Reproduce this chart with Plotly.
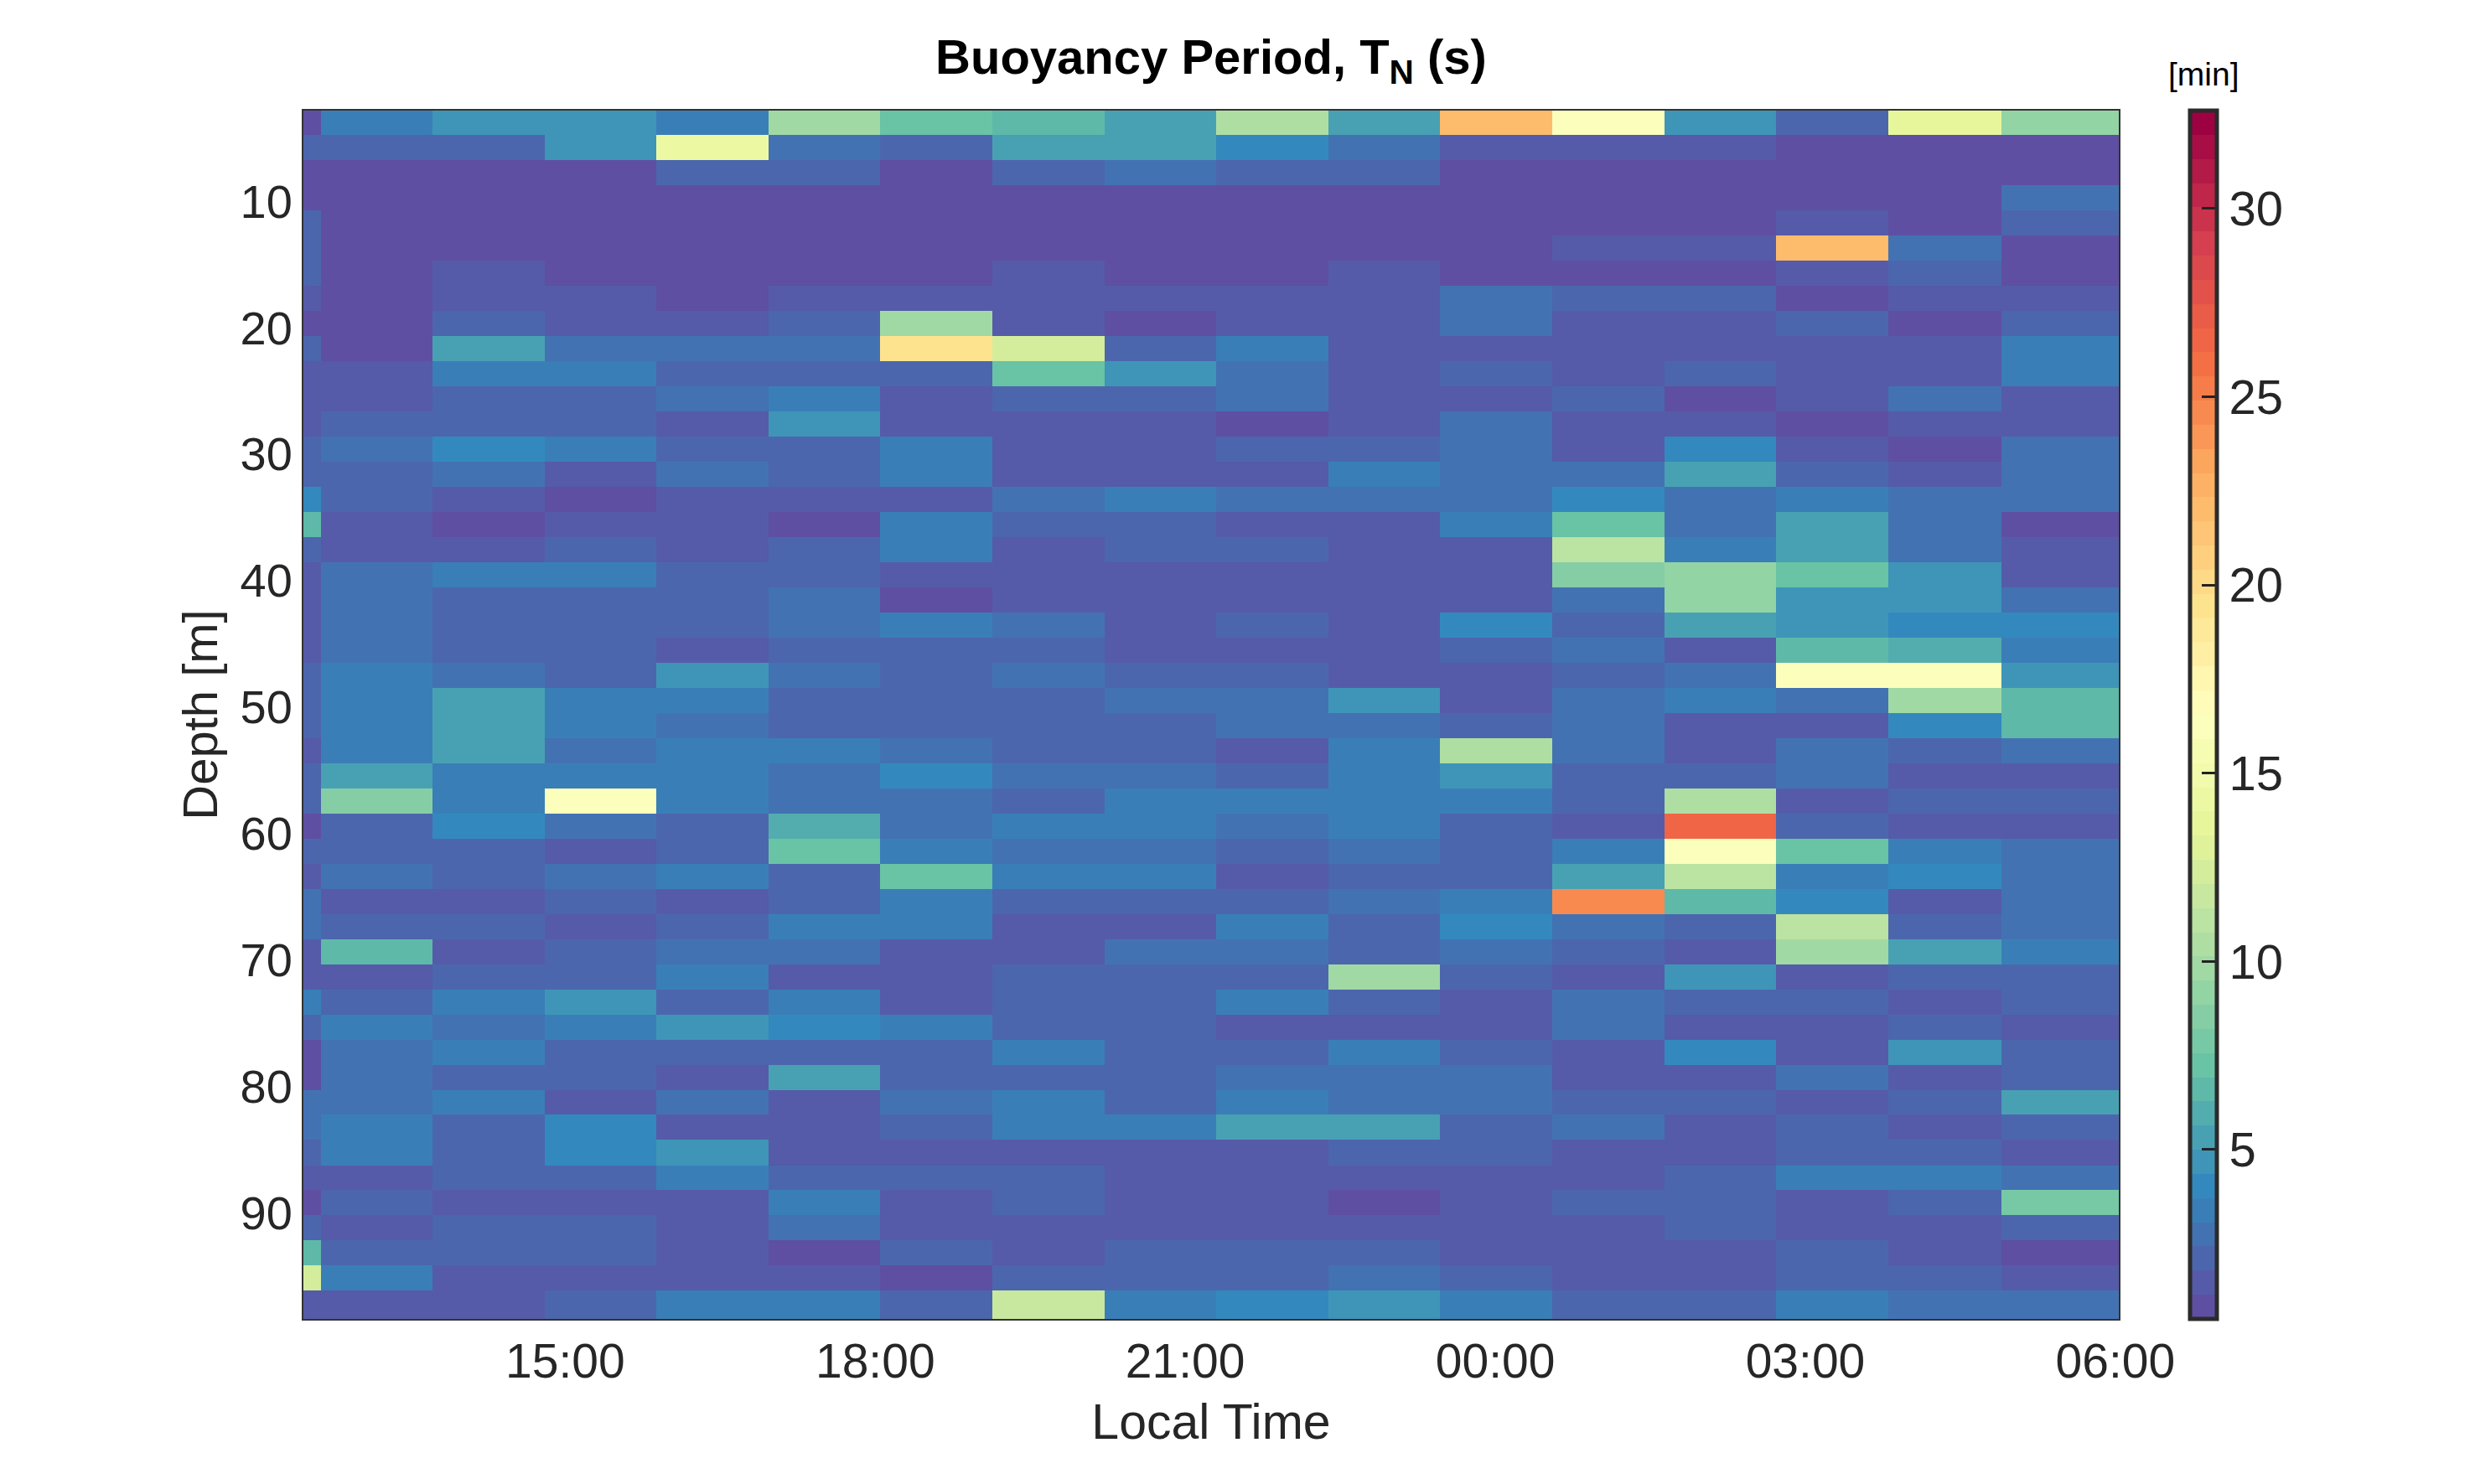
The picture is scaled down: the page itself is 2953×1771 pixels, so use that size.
#!/usr/bin/env python
"""
Buoyancy period section: depth against local time, coloured by period in minutes.
"""

import plotly.colors as pc
import plotly.graph_objects as go

TIME_EDGES = [
    "2024-03-01 11:33", "2024-03-01 12:38", "2024-03-01 13:43", "2024-03-01 14:48",
    "2024-03-01 15:53", "2024-03-01 16:58", "2024-03-01 18:03", "2024-03-01 19:08",
    "2024-03-01 20:13", "2024-03-01 21:18", "2024-03-01 22:23", "2024-03-01 23:28",
    "2024-03-02 00:33", "2024-03-02 01:38", "2024-03-02 02:43", "2024-03-02 03:48",
    "2024-03-02 04:54", "2024-03-02 06:02",
]

DEPTH_EDGES = [
    2.84, 4.77, 6.76, 8.74, 10.73, 12.72, 14.71, 16.69, 18.68, 20.67, 22.65, 24.64,
    26.63, 28.61, 30.60, 32.59, 34.58, 36.56, 38.55, 40.54, 42.52, 44.51, 46.50,
    48.48, 50.47, 52.46, 54.45, 56.43, 58.42, 60.41, 62.39, 64.38, 66.37, 68.35,
    70.34, 72.33, 74.32, 76.30, 78.29, 80.28, 82.26, 84.25, 86.24, 88.22, 90.21,
    92.20, 94.19, 96.17, 98.40,
]

# one row per depth bin, one value per time bin [min]
PERIOD_MIN = [
    [1.0, 3.3, 4.6, 4.6, 3.3, 9.8, 7.0, 6.5, 5.0, 10.5, 5.0, 22.0, 16.0, 4.4, 2.3, 13.5, 9.0],
    [2.0, 2.2, 2.2, 4.4, 14.0, 2.6, 2.2, 5.0, 5.0, 4.0, 2.7, 1.7, 1.7, 1.7, 1.1, 1.1, 1.1],
    [1.0, 1.0, 1.0, 1.0, 2.3, 1.8, 1.0, 1.8, 2.6, 1.8, 1.8, 1.0, 1.0, 1.0, 1.0, 1.0, 1.0],
    [1.0, 1.0, 1.0, 1.0, 1.0, 1.0, 1.0, 1.0, 1.0, 1.0, 1.0, 1.0, 1.0, 1.0, 1.0, 1.0, 2.6],
    [1.8, 1.0, 1.0, 1.0, 1.0, 1.0, 1.0, 1.0, 1.0, 1.0, 1.0, 1.0, 1.0, 1.0, 1.7, 1.0, 1.8],
    [1.8, 1.0, 1.0, 1.0, 1.0, 1.0, 1.0, 1.0, 1.0, 1.0, 1.0, 1.0, 1.5, 1.5, 22.0, 2.7, 1.0],
    [1.8, 1.0, 1.6, 1.0, 1.0, 1.0, 1.0, 1.6, 1.0, 1.0, 1.5, 1.0, 0.9, 0.9, 1.6, 2.0, 1.0],
    [1.7, 1.0, 1.6, 1.6, 1.0, 1.6, 1.6, 1.6, 1.6, 1.5, 1.5, 2.6, 2.3, 2.3, 0.9, 1.6, 1.6],
    [1.0, 1.0, 2.2, 1.6, 1.6, 2.1, 9.8, 1.6, 0.9, 1.5, 1.5, 2.6, 1.5, 1.5, 2.2, 0.9, 1.8],
    [1.8, 1.0, 5.2, 2.6, 2.6, 2.6, 19.5, 12.5, 1.8, 3.4, 1.5, 1.5, 1.5, 1.5, 1.5, 1.5, 3.3],
    [1.5, 1.6, 3.3, 3.3, 2.2, 2.2, 2.2, 7.0, 4.4, 2.7, 1.5, 2.1, 1.5, 2.0, 1.5, 1.5, 3.3],
    [1.5, 1.6, 2.1, 2.1, 2.7, 3.3, 1.5, 2.1, 2.1, 2.7, 1.5, 1.6, 2.1, 0.9, 1.5, 2.6, 1.4],
    [1.5, 2.1, 2.1, 2.1, 1.5, 4.5, 1.5, 1.5, 1.5, 0.9, 1.5, 2.6, 1.5, 1.5, 0.9, 1.4, 1.4],
    [2.0, 2.7, 4.0, 3.3, 2.1, 2.1, 3.7, 1.5, 1.5, 2.1, 2.1, 2.6, 1.5, 3.8, 1.5, 0.9, 2.7],
    [2.0, 2.1, 2.8, 1.5, 2.7, 2.1, 3.3, 1.5, 1.5, 1.4, 3.2, 2.7, 2.7, 5.2, 2.1, 1.3, 2.8],
    [4.0, 2.2, 1.5, 0.9, 1.5, 1.5, 1.5, 2.7, 3.3, 2.8, 2.8, 2.8, 4.3, 2.7, 3.2, 2.6, 2.7],
    [6.3, 1.4, 0.9, 1.5, 1.5, 0.9, 3.3, 2.1, 2.1, 1.3, 1.3, 3.3, 7.0, 2.7, 5.2, 2.6, 0.9],
    [2.1, 1.5, 1.5, 2.1, 1.5, 2.1, 3.3, 1.5, 2.0, 2.0, 1.4, 1.4, 11.0, 3.3, 5.2, 2.9, 1.4],
    [1.2, 2.7, 3.3, 3.3, 2.2, 2.1, 1.4, 1.4, 1.4, 1.4, 1.4, 1.4, 8.5, 9.2, 7.0, 4.4, 1.6],
    [1.2, 2.7, 2.1, 2.1, 2.1, 2.7, 0.9, 1.4, 1.4, 1.4, 1.4, 1.4, 2.7, 9.2, 4.4, 4.4, 2.7],
    [1.2, 2.7, 2.1, 2.1, 2.1, 2.7, 3.3, 2.7, 1.3, 2.0, 1.4, 4.0, 2.1, 5.0, 4.4, 3.8, 4.3],
    [1.2, 2.7, 2.4, 2.1, 1.4, 1.9, 2.0, 2.0, 1.3, 1.3, 1.3, 2.0, 2.6, 1.4, 6.3, 5.8, 3.2],
    [1.8, 3.3, 2.6, 2.0, 4.4, 2.6, 2.0, 2.7, 1.9, 1.9, 1.3, 1.3, 2.1, 2.7, 16.0, 16.0, 4.4],
    [1.8, 3.3, 5.2, 3.6, 3.6, 2.1, 2.1, 2.1, 2.6, 2.6, 4.4, 1.3, 2.7, 3.2, 2.7, 9.8, 6.4],
    [1.8, 3.7, 5.2, 3.3, 2.7, 2.1, 2.1, 2.1, 2.1, 2.6, 2.6, 2.0, 2.7, 1.3, 1.3, 3.8, 6.4],
    [1.5, 3.3, 5.2, 2.7, 3.3, 3.3, 2.7, 2.0, 2.0, 1.5, 3.2, 10.5, 2.7, 1.3, 2.7, 2.0, 2.6],
    [1.9, 5.6, 3.3, 3.7, 3.3, 2.6, 3.8, 2.6, 2.6, 2.4, 3.2, 4.6, 2.0, 2.0, 2.6, 1.3, 1.3],
    [2.4, 8.5, 3.6, 16.0, 3.3, 2.6, 2.6, 2.0, 3.6, 3.5, 3.7, 3.2, 2.0, 10.5, 1.3, 2.0, 2.0],
    [1.1, 2.0, 4.3, 2.6, 2.0, 5.7, 2.6, 3.6, 3.3, 2.7, 3.3, 2.0, 1.2, 26.7, 2.0, 1.3, 1.3],
    [2.0, 2.0, 2.0, 1.3, 2.0, 7.5, 3.2, 2.6, 2.6, 2.0, 2.6, 2.0, 3.3, 16.0, 7.5, 3.1, 2.6],
    [1.7, 2.6, 2.0, 2.7, 3.6, 2.0, 7.5, 3.6, 3.3, 1.3, 2.0, 2.0, 5.6, 10.8, 3.2, 4.3, 2.6],
    [2.6, 1.3, 1.3, 2.0, 1.3, 2.0, 3.7, 2.0, 2.0, 2.0, 2.6, 3.2, 24.5, 6.4, 4.3, 1.2, 2.6],
    [2.6, 2.0, 2.0, 1.3, 2.1, 3.2, 3.2, 1.3, 1.3, 3.4, 1.8, 3.8, 2.6, 2.1, 10.8, 2.0, 2.6],
    [1.2, 6.4, 1.3, 2.0, 2.6, 2.6, 1.2, 1.2, 2.6, 2.6, 2.1, 2.6, 2.1, 1.3, 9.8, 5.6, 3.6],
    [1.7, 1.2, 2.3, 2.3, 3.2, 1.2, 1.2, 2.0, 2.0, 1.8, 9.7, 2.0, 1.2, 4.4, 1.2, 2.4, 2.4],
    [3.2, 1.8, 3.2, 4.4, 2.0, 3.2, 1.2, 2.0, 2.0, 3.3, 2.0, 1.2, 2.6, 1.9, 1.9, 1.2, 1.8],
    [2.0, 3.7, 2.5, 3.2, 4.4, 3.8, 3.1, 1.9, 1.9, 1.2, 1.2, 1.2, 2.6, 1.2, 1.2, 1.8, 1.2],
    [1.1, 2.6, 3.6, 1.9, 1.9, 2.4, 2.4, 3.2, 1.9, 1.9, 3.6, 1.9, 1.2, 4.3, 1.2, 4.4, 1.9],
    [1.1, 2.6, 1.8, 1.8, 1.2, 5.2, 1.8, 2.4, 1.8, 2.5, 2.5, 2.5, 1.2, 1.2, 2.5, 1.2, 1.9],
    [2.5, 2.5, 3.3, 1.2, 2.5, 1.2, 2.6, 3.3, 2.4, 3.6, 2.6, 2.6, 1.9, 1.9, 1.2, 2.4, 5.0],
    [3.0, 3.7, 1.9, 3.8, 1.2, 1.2, 2.0, 3.3, 3.3, 5.0, 5.0, 1.9, 2.6, 1.2, 1.9, 1.2, 2.4],
    [1.8, 3.3, 1.9, 3.8, 4.4, 1.3, 1.3, 1.3, 1.2, 1.2, 2.4, 1.9, 1.2, 1.2, 1.9, 1.9, 1.2],
    [1.2, 1.2, 1.9, 1.9, 3.2, 2.0, 2.0, 2.0, 1.2, 1.2, 1.2, 1.2, 1.2, 2.3, 3.2, 3.2, 2.5],
    [1.1, 2.0, 1.3, 1.3, 1.3, 3.2, 1.3, 1.9, 1.2, 1.2, 0.8, 1.2, 1.9, 1.9, 1.2, 1.9, 8.0],
    [1.8, 1.2, 1.8, 1.8, 1.2, 2.5, 1.2, 1.2, 1.2, 1.2, 1.2, 1.2, 1.2, 1.9, 1.2, 1.2, 1.9],
    [6.4, 1.9, 2.4, 1.9, 1.2, 0.8, 1.8, 1.2, 1.8, 1.8, 2.4, 1.2, 1.2, 1.2, 1.9, 1.2, 0.8],
    [12.5, 3.3, 1.2, 1.2, 1.2, 1.2, 0.8, 2.2, 1.8, 1.8, 3.0, 1.8, 1.2, 1.2, 1.8, 1.8, 1.2],
    [1.2, 1.2, 1.2, 1.9, 3.3, 3.3, 1.9, 12.0, 3.4, 4.0, 4.4, 3.3, 2.4, 1.8, 3.3, 2.8, 2.8],
]

COLOR_LEVELS = 50
PERIOD_LIMITS = (0.5, 32.6)
COLORBAR_TICKS = [5, 10, 15, 20, 25, 30]
DEPTH_TICKS = [10, 20, 30, 40, 50, 60, 70, 80, 90]

FONT = "Liberation Sans"
TEXT_COLOR = "#262626"
FRAME_COLOR = "#333333"


def stepped_spectral(levels: int) -> list:
    """Cut the reversed Spectral scale into flat bands, like a binned colormap."""
    samples = [i / (levels - 1) for i in range(levels)]
    colors = pc.sample_colorscale(pc.diverging.Spectral_r, samples)
    scale = []
    for i, color in enumerate(colors):
        scale.append([i / levels, color])
        scale.append([(i + 1) / levels, color])
    return scale


def main() -> None:
    fig = go.Figure(
        go.Heatmap(
            x=TIME_EDGES,
            y=DEPTH_EDGES,
            z=PERIOD_MIN,
            zmin=PERIOD_LIMITS[0],
            zmax=PERIOD_LIMITS[1],
            zsmooth=False,
            colorscale=stepped_spectral(COLOR_LEVELS),
            colorbar=dict(
                x=1.0393,
                xanchor="left",
                y=0.5,
                len=1,
                thickness=32,
                xpad=0,
                ypad=0,
                outlinecolor="#2b2b2b",
                outlinewidth=5,
                ticks="inside",
                ticklen=20,
                tickwidth=3,
                tickcolor="#222222",
                tickvals=COLORBAR_TICKS,
                tickfont=dict(family=FONT, size=58, color=TEXT_COLOR),
            ),
        )
    )

    fig.update_xaxes(
        type="date",
        range=["2024-03-01 12:28", "2024-03-02 06:02"],
        dtick=3 * 3600 * 1000,
        tick0="2024-03-01 00:00",
        tickformat="%H:%M",
        ticks="",
        showgrid=False,
        zeroline=False,
        showline=True,
        mirror=True,
        linecolor=FRAME_COLOR,
        linewidth=2,
        tickfont=dict(family=FONT, size=57, color=TEXT_COLOR),
        title=dict(
            text="Local Time",
            font=dict(family=FONT, size=59, color=TEXT_COLOR),
            standoff=20,
        ),
    )
    fig.update_yaxes(
        range=[98.4, 2.84],
        tickvals=DEPTH_TICKS,
        ticks="",
        showgrid=False,
        zeroline=False,
        showline=True,
        mirror=True,
        linecolor=FRAME_COLOR,
        linewidth=2,
        tickfont=dict(family=FONT, size=56, color=TEXT_COLOR),
        title=dict(
            text="Depth [m]",
            font=dict(family=FONT, size=58, color=TEXT_COLOR),
            standoff=8,
        ),
    )

    # the page keeps an 8px body margin, so the figure is a little under the window size
    fig.update_layout(
        width=2937,
        height=1755,
        autosize=False,
        margin=dict(l=354, r=417, t=124, b=189),
        paper_bgcolor="white",
        plot_bgcolor="white",
        title=dict(
            text="<b>Buoyancy Period, T<sub>N</sub> (s)</b>",
            font=dict(family=FONT, size=58, color="black"),
            x=(354 + 2520) / 2 / 2937,
            xanchor="center",
            y=0.966,
            yanchor="middle",
        ),
        annotations=[
            dict(
                text="[min]",
                xref="paper",
                yref="paper",
                x=1.0393 + 16 / 2166,
                y=1.030,
                xanchor="center",
                yanchor="middle",
                showarrow=False,
                font=dict(family=FONT, size=39, color="black"),
            )
        ],
    )

    fig.write_html("out.html")


if __name__ == "__main__":
    main()
